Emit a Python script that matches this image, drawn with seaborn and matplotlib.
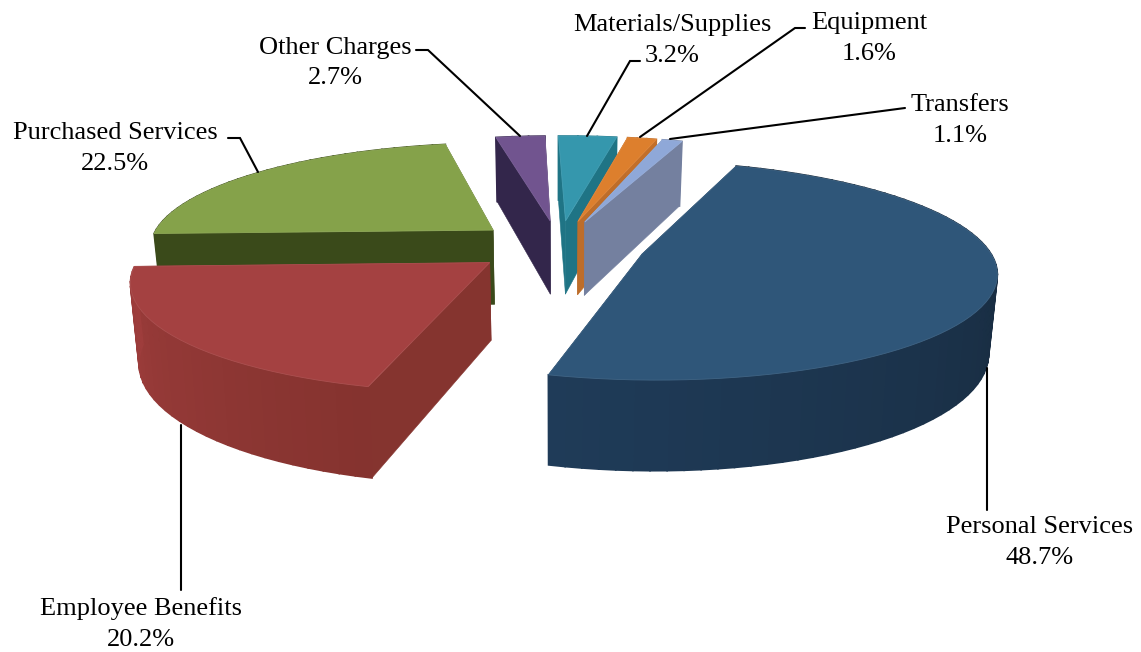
import numpy as np
import matplotlib
matplotlib.use("Agg")
import matplotlib.pyplot as plt
import seaborn as sns

categories = ["Personal Services", "Employee Benefits", "Purchased Services", "Other Charges",
              "Materials/Supplies", "Equipment", "Transfers"]
shares = [48.7, 20.2, 22.5, 2.7, 3.2, 1.6, 1.1]
top_colors = ["#2f5679", "#a44141", "#85a24a", "#71548f", "#3597ad", "#dd7f2d", "#8fa8d8"]
wall_near = ["#1f3b58", "#9e3d3c", "#3a4a1a", "#33264b", "#1f7485", "#c26f2a", "#74809f"]
wall_far = ["#13212f", "#85332f", "#3a4a1a", "#33264b", "#1f7485", "#c26f2a", "#74809f"]
cut_colors = ["#1f3b58", "#85342f", "#3a4a1a", "#33264b", "#1f7485", "#bd6d2a", "#74809f"]
label_centers = [(1040, 527), (141, 609), (115, 133), (335, 48), (672, 25), (869, 23), (960, 105)]
leaders = [[(987, 368), (987, 510)],
           [(181, 425), (181, 590)],
           [(228, 138), (240, 138), (258, 172)],
           [(416, 50), (428, 50), (520, 136)],
           [(640, 61), (630, 61), (587, 136)],
           [(805, 28), (795, 28), (640, 137)],
           [(905, 108), (670, 139)]]

CX, CY, R, K, P, H, EXPL, START, TAPER = 559, 246, 345, 0.303, 0.15, 76, 0.25, 70.0, 0.02
draw_order = [3, 4, 5, 6, 2, 1, 0]

sns.set_theme(style="white")
plt.rcParams["font.family"] = ["Liberation Serif", "DejaVu Serif"]
fig = plt.figure(figsize=(11.41, 6.52), dpi=100, facecolor="white")
ax = fig.add_axes([0, 0, 1, 1])
ax.set_xlim(0, 1141)
ax.set_ylim(652, 0)
ax.axis("off")


def project(u, v, z=0.0):
    s = 1.0 / (1.0 + P * v)
    return CX + R * u * s * (1 - TAPER * z), CY - R * K * v * s + z * H * s


def mix(a, b, t):
    a, b = np.array(matplotlib.colors.to_rgb(a)), np.array(matplotlib.colors.to_rgb(b))
    return tuple(a + (b - a) * t)


fractions = np.array(shares) / sum(shares)
ends = START - 360 * np.concatenate([[0], np.cumsum(fractions)])
for i in draw_order:
    a0, a1 = np.radians(ends[i]), np.radians(ends[i + 1])
    mid = (a0 + a1) / 2
    au, av = EXPL * np.cos(mid), EXPL * np.sin(mid)
    th = np.linspace(a0, a1, max(4, int(abs(a1 - a0) * 24)))
    ru, rv = au + np.cos(th), av + np.sin(th)
    # cut faces
    for t in (a0, a1):
        eu, ev = au + np.cos(t), av + np.sin(t)
        pts = [project(au, av), project(eu, ev), project(eu, ev, 1), project(au, av, 1)]
        ax.fill(*zip(*pts), color=cut_colors[i], lw=0.4)
    # outer wall, shaded facet by facet
    n = len(th)
    for j in range(n - 1):
        pts = [project(ru[j], rv[j]), project(ru[j + 1], rv[j + 1]),
               project(ru[j + 1], rv[j + 1], 1), project(ru[j], rv[j], 1)]
        ax.fill(*zip(*pts), color=mix(wall_far[i], wall_near[i], j / max(1, n - 2)), lw=1.2)
    # top face
    tx, ty = project(np.r_[au, ru], np.r_[av, rv])
    ax.fill(tx, ty, facecolor=top_colors[i], edgecolor=mix(top_colors[i], "#ffffff", 0.08), lw=0.6)

for path in leaders:
    ax.plot(*zip(*path), color="black", lw=1.5, solid_joinstyle="miter", zorder=5)

for name, val, (x, y) in zip(categories, shares, label_centers):
    ax.text(x, y, name, ha="center", va="center", fontsize=19, color="black", zorder=6)
    ax.text(x, y + 30.5, f"{val:.1f}%", ha="center", va="center", fontsize=19, color="black", zorder=6)

fig.savefig("out.png", dpi=100, facecolor="white")
